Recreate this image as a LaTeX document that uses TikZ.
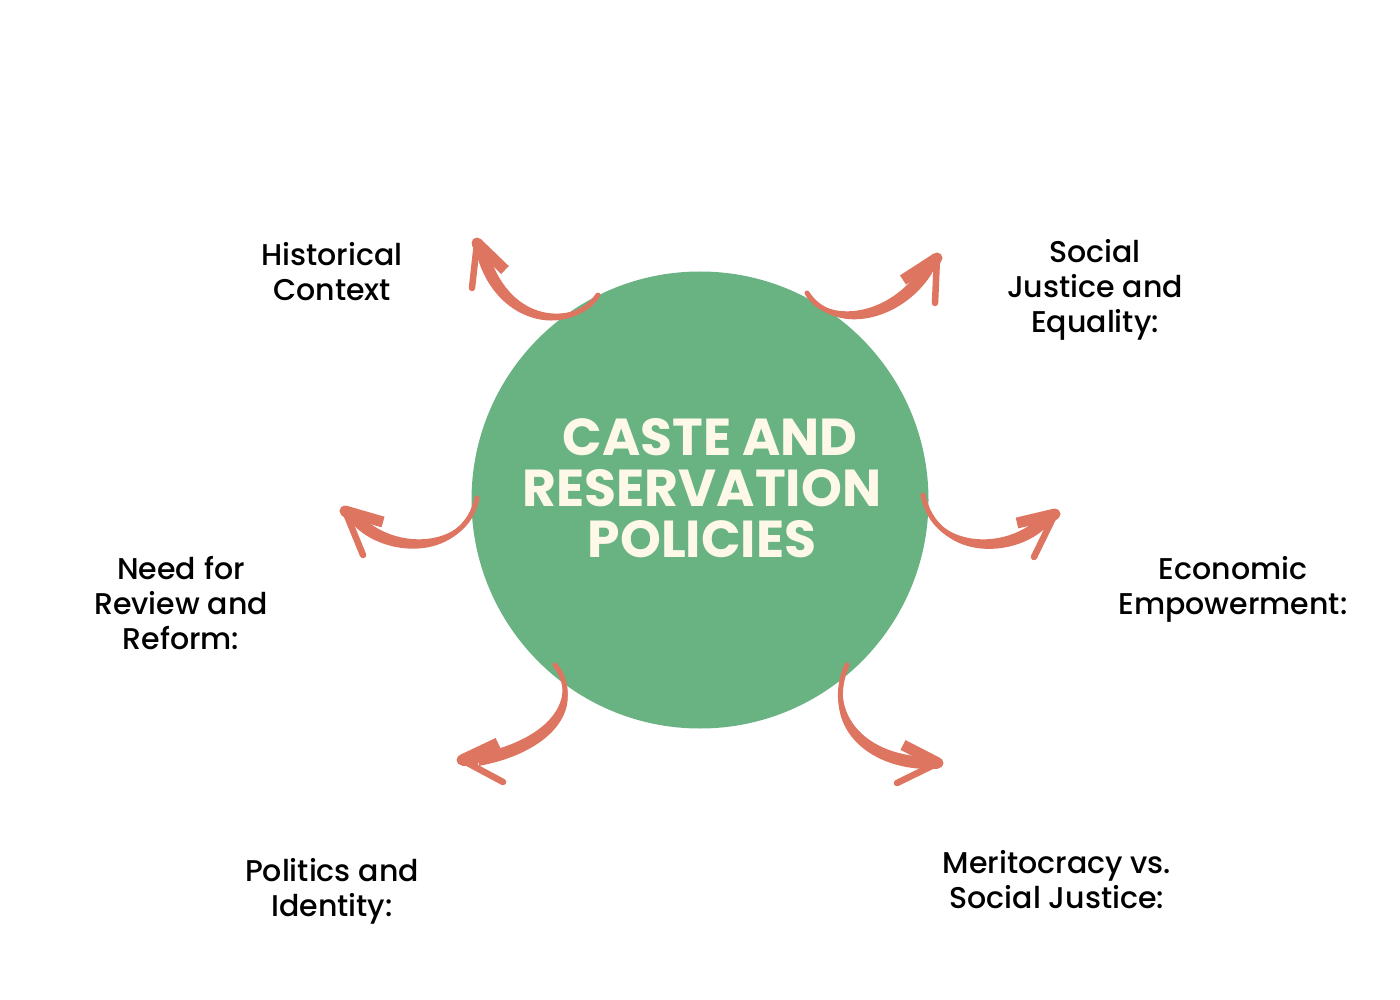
\documentclass[tikz,border=0pt]{standalone}
\usepackage{fontspec}
\setmainfont{Poppins}
\newfontfamily\labfont{Poppins Medium}
\usetikzlibrary{calc}
\definecolor{circgreen}{RGB}{105,178,130}
\definecolor{arrowred}{RGB}{222,117,96}
\definecolor{cream}{RGB}{253,248,232}
\newcommand\myarr[7]{%
  \fill[arrowred] (#1) .. controls ($(#2)!6.5pt!-90:(#3)$) and ($(#3)!6.5pt!-90:(#4)$) .. ($(#4)!6pt!90:(#3)$)
     -- ($(#4)!6pt!-90:(#3)$) .. controls ($(#3)!6.5pt!90:(#4)$) and ($(#2)!6.5pt!90:(#3)$) .. (#1) -- cycle;
  \draw[tailline] (#1) .. controls (#2) and (#3) .. (#4);
  \draw[neckline] (#4) -- (#5);
  \draw[barbline] (#5) -- (#6);
  \draw[spurline] (#5) -- (#7);
  \fill[arrowred] (#5) circle (5.5pt);
}
\begin{document}
\begin{tikzpicture}[x=1pt,y=-1pt,
  lab/.style={font=\labfont\fontsize{30}{35}\selectfont, align=center, text=black, inner sep=0pt},
  ttl/.style={font=\bfseries\fontsize{52}{51}\selectfont, text=cream, align=center, inner sep=0pt},
  tailline/.style={draw=arrowred, line width=5pt, line cap=round},
  neckline/.style={draw=arrowred, line width=11pt},
  barbline/.style={draw=arrowred, line width=11pt, line cap=butt},
  spurline/.style={draw=arrowred, line width=6.5pt, line cap=round}]
\useasboundingbox (0,0) rectangle (1400,1000);
\fill[white] (0,0) rectangle (1400,1000);
\node[circle, fill=circgreen, minimum size=457pt, inner sep=0pt] (hub) at (700,500) {};
\node[ttl] (title) at (702,488) {\hspace*{16pt}CASTE AND\\RESERVATION\\POLICIES};
% labels
\node[lab] (hist) at (332,272) {Historical\\Context};
\node[lab] (soc) at (1095,290) {Social\\Justice and\\Equality:};
\node[lab] (need) at (181,603) {Need for\\Review and\\Reform:};
\node[lab] (econ) at (1233,589) {Economic\\Empowerment:};
\node[lab] (pol) at (332,891) {Politics and\\Identity:};
\node[lab] (mer) at (1057,880) {Meritocracy vs.\\Social Justice:};
% arrow 1 (to Historical Context)
\coordinate (aT) at (598,295); \coordinate (aA) at (575,330); \coordinate (aB) at (505,328);
\coordinate (aE) at (483,255); \coordinate (aP) at (477,243); \coordinate (aX) at (505,270); \coordinate (aY) at (472,288);
\myarr{aT}{aA}{aB}{aE}{aP}{aX}{aY}
% arrow 2 (to Politics and Identity)
\coordinate (bT) at (555,665); \coordinate (bA) at (582,700); \coordinate (bB) at (555,745);
\coordinate (bE) at (478,760); \coordinate (bP) at (462,760); \coordinate (bX) at (498,743); \coordinate (bY) at (503,782);
\myarr{bT}{bA}{bB}{bE}{bP}{bX}{bY}
% arrow 3 (to Social Justice)
\coordinate (cT) at (807,293); \coordinate (cA) at (830,330); \coordinate (cB) at (895,320);
\coordinate (cE) at (927,270); \coordinate (cP) at (937,258); \coordinate (cX) at (903,280); \coordinate (cY) at (935,303);
\myarr{cT}{cA}{cB}{cE}{cP}{cX}{cY}
% arrow 4 (to Need for Review)
\coordinate (dT) at (477,498); \coordinate (dA) at (465,555); \coordinate (dB) at (390,555);
\coordinate (dE) at (357,520); \coordinate (dP) at (345,511); \coordinate (dX) at (383,522); \coordinate (dY) at (363,555);
\myarr{dT}{dA}{dB}{dE}{dP}{dX}{dY}
% arrow 5 (to Economic Empowerment)
\coordinate (eT) at (923,495); \coordinate (eA) at (935,555); \coordinate (eB) at (1010,555);
\coordinate (eE) at (1043,522); \coordinate (eP) at (1055,514); \coordinate (eX) at (1017,523); \coordinate (eY) at (1034,557);
\myarr{eT}{eA}{eB}{eE}{eP}{eX}{eY}
% arrow 6 (to Meritocracy)
\coordinate (fT) at (847,665); \coordinate (fA) at (825,715); \coordinate (fB) at (860,760);
\coordinate (fE) at (925,763); \coordinate (fP) at (938,763); \coordinate (fX) at (903,745); \coordinate (fY) at (897,783);
\myarr{fT}{fA}{fB}{fE}{fP}{fX}{fY}
\end{tikzpicture}
\end{document}
